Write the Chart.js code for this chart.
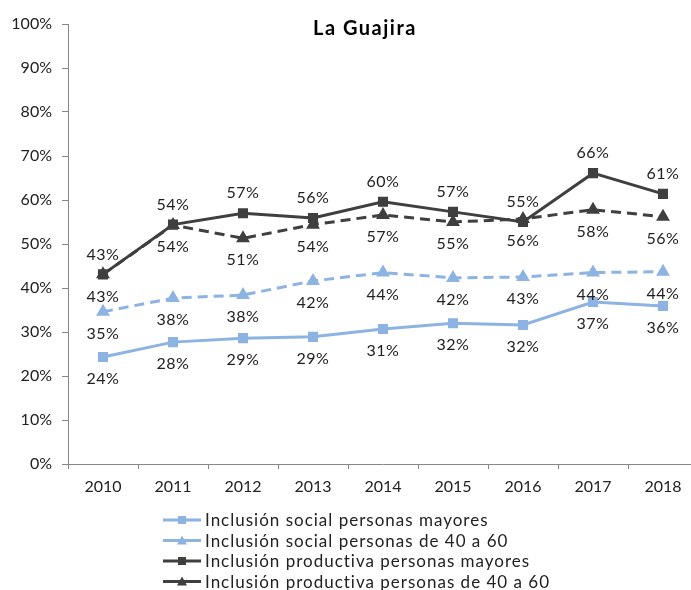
<!DOCTYPE html>
<html>
<head>
<meta charset="utf-8">
<title>La Guajira</title>
<script src="https://cdn.jsdelivr.net/npm/chart.js@4/dist/chart.umd.min.js"></script>
<style>
  html, body { margin: 0; padding: 0; background: #fff; overflow: hidden; }
  #wrap { width: 730px; height: 590px; }
</style>
</head>
<body>
<div id="wrap"><canvas id="guajiraChart" width="730" height="590"></canvas></div>
<script>
// values (percent)
const years = ['2010', '2011', '2012', '2013', '2014', '2015', '2016', '2017', '2018'];
const socialMayores = [24.3, 27.7, 28.6, 28.9, 30.7, 32.0, 31.6, 36.8, 35.9];
const social40a60 = [34.6, 37.7, 38.4, 41.6, 43.5, 42.3, 42.5, 43.5, 43.7];
const productivaMayores = [43.1, 54.4, 57.0, 55.9, 59.6, 57.3, 55.0, 66.1, 61.4];
const productiva40a60 = [43.1, 54.3, 51.3, 54.4, 56.6, 55.0, 55.7, 57.8, 56.2];
const yTicks = [0, 10, 20, 30, 40, 50, 60, 70, 80, 90, 100];

const LIGHT = '#8db3e2';
const DARK = '#3f3f3f';
const FONT = 'Lato, "DejaVu Sans", sans-serif';

// draws the percent above / below each point
const pointLabels = {
    id: 'pointLabels',
    afterDatasetsDraw(chart) {
        const ctx = chart.ctx;
        ctx.save();
        ctx.font = '16px ' + FONT;
        ctx.letterSpacing = '0.5px';
        ctx.fillStyle = '#222';
        ctx.textAlign = 'center';
        ctx.textBaseline = 'middle';
        chart.data.datasets.forEach((ds, i) => {
            const meta = chart.getDatasetMeta(i);
            meta.data.forEach((pt, j) => {
                const dy = ds.labelPos === 'above' ? -20 : 22;
                ctx.fillText(Math.round(ds.data[j]) + '%', pt.x, pt.y + dy);
            });
        });
        ctx.restore();
    }
};

// title + one-per-row legend like the original
const titleAndLegend = {
    id: 'titleAndLegend',
    afterDraw(chart) {
        const ctx = chart.ctx;
        ctx.save();
        ctx.fillStyle = '#000';
        ctx.font = 'bold 20px ' + FONT;
        ctx.letterSpacing = '1.5px';
        ctx.textAlign = 'center';
        ctx.textBaseline = 'middle';
        ctx.fillText('La Guajira', 365, 29);

        ctx.font = '17px ' + FONT;
        ctx.letterSpacing = '1px';
        ctx.textAlign = 'left';
        chart.data.datasets.forEach((ds, i) => {
            const y = 520 + i * 20.5;
            ctx.strokeStyle = ds.borderColor;
            ctx.fillStyle = ds.borderColor;
            ctx.lineWidth = 3;
            ctx.setLineDash([]);
            ctx.beginPath();
            ctx.moveTo(163, y);
            ctx.lineTo(201, y);
            ctx.stroke();
            if (ds.pointStyle === 'rect') {
                ctx.fillRect(182 - 4, y - 4, 8, 8);
            } else {
                ctx.beginPath();
                ctx.moveTo(182, y - 5);
                ctx.lineTo(187, y + 4);
                ctx.lineTo(177, y + 4);
                ctx.closePath();
                ctx.fill();
            }
            ctx.fillStyle = '#222';
            ctx.fillText(ds.label, 205, y + 1);
        });
        ctx.restore();
    }
};

new Chart(document.getElementById('guajiraChart').getContext('2d'), {
    type: 'line',
    data: {
        labels: years,
        datasets: [
            { label: 'Inclusión social personas mayores', data: socialMayores, borderColor: LIGHT, backgroundColor: LIGHT,
              borderWidth: 3, pointStyle: 'rect', pointRadius: 5, labelPos: 'below' },
            { label: 'Inclusión social personas de 40 a 60', data: social40a60, borderColor: LIGHT, backgroundColor: LIGHT,
              borderWidth: 3, borderDash: [10, 6], pointStyle: 'triangle', pointRadius: 5, labelPos: 'below' },
            { label: 'Inclusión productiva personas mayores', data: productivaMayores, borderColor: DARK, backgroundColor: DARK,
              borderWidth: 3, pointStyle: 'rect', pointRadius: 5, labelPos: 'above' },
            { label: 'Inclusión productiva personas de 40 a 60', data: productiva40a60, borderColor: DARK, backgroundColor: DARK,
              borderWidth: 3, borderDash: [10, 6], pointStyle: 'triangle', pointRadius: 5, labelPos: 'below' }
        ]
    },
    options: {
        responsive: false,
        animation: false,
        devicePixelRatio: 1,
        layout: { padding: { left: 0, right: 32, top: 24, bottom: 86 } },
        plugins: { legend: { display: false }, title: { display: false }, tooltip: { enabled: false } },
        elements: { line: { tension: 0 }, point: { borderWidth: 1 } },
        scales: {
            x: {
                offset: true,
                grid: { offset: true, drawOnChartArea: false, color: '#888', tickLength: 5 },
                border: { color: '#888', width: 1 },
                ticks: { color: '#222', font: { family: FONT, size: 16 }, padding: 8, maxRotation: 0 },
                afterFit: (s) => { s.height = 40; }
            },
            y: {
                min: 0,
                max: 100,
                afterBuildTicks: (s) => { s.ticks = yTicks.map((v) => ({ value: v })); },
                grid: { drawOnChartArea: false, color: '#888', tickLength: 6 },
                border: { color: '#888', width: 1 },
                ticks: { color: '#222', font: { family: FONT, size: 16 }, padding: 10, callback: (v) => v + '%' },
                afterFit: (s) => { s.width = 68; }
            }
        }
    },
    plugins: [pointLabels, titleAndLegend]
});
</script>
</body>
</html>
